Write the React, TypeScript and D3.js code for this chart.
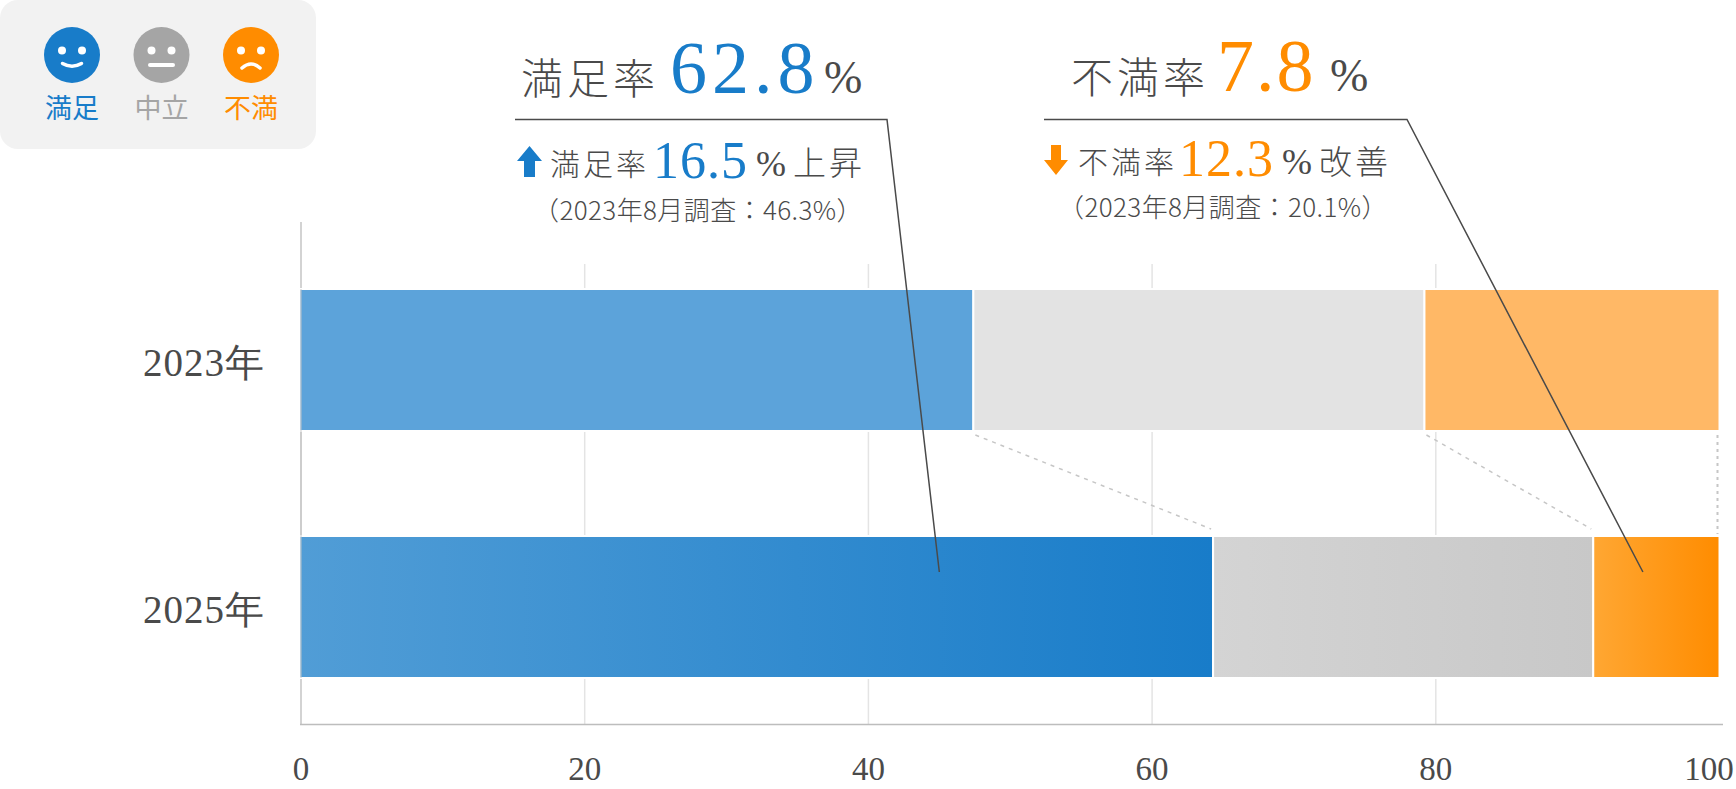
import React from "react";
import * as d3 from "d3";

const years = ["2023年", "2025年"];
const satisfied = [47.4, 64.3];
const neutral = [31.8, 26.8];
const unsatisfied = [20.8, 8.9];
const xTicks = [0, 20, 40, 60, 80, 100];
const keys = ["satisfied", "neutral", "unsatisfied"];
const legendLabels = ["満足", "中立", "不満"];
const rows = years.map((year, i) => ({ year, satisfied: satisfied[i], neutral: neutral[i], unsatisfied: unsatisfied[i] }));

const BLUE = "#187cc9", GREY = "#a5a5a5", ORANGE = "#ff8c00", INK = "#4a4a4a";
const SERIF = "'Liberation Serif', serif";
const JP = "'Noto Sans CJK JP', sans-serif";
const flat = ["#5ca3da", "#e3e3e3", "#ffb866"];
const grads = [["#519dd6", BLUE], ["#d4d4d4", "#c8c8c8"], ["#ffa733", ORANGE]];

const x = d3.scaleLinear().domain([0, 100]).range([301, 1719.5]);
const y = d3.scaleBand().domain(years).range([190.2, 776.8]).paddingInner(105 / 247).paddingOuter(0.4);
const stack = d3.stack().keys(keys)(rows as any);

const T = ({ x, y, size, fill = INK, family = SERIF, weight = 400, spacing = 0, anchor = "start", children }: any) => (
  <text x={x} y={y} fontSize={size} fill={fill} fontFamily={family} fontWeight={weight} letterSpacing={spacing} textAnchor={anchor}>{children}</text>
);

const Face = ({ cx, color, mood, label }: any) => {
  const mouth = mood === 0 ? "M-9.5 8.5 Q0 14 9.5 8.5" : mood === 1 ? "M-11.5 10 H11.5" : "M-9 13 Q0 5 9 13";
  return (
    <g>
      <circle cx={cx} cy={55} r={28} fill={color} />
      <g transform={`translate(${cx},55)`} fill="#fff">
        <circle cx={-10} cy={-4.5} r={4} />
        <circle cx={10} cy={-4.5} r={4} />
        <path d={mouth} fill="none" stroke="#fff" strokeWidth={mood === 1 ? 4 : 3.5} strokeLinecap="round" />
      </g>
      <T x={cx} y={118} size={27} fill={color} family={JP} anchor="middle">{label}</T>
    </g>
  );
};

export default function App() {
  const barTop = (i: number) => y(years[i])!;
  const bh = y.bandwidth();
  const top0 = barTop(0) + bh, top1 = barTop(1);
  const sum2023 = [satisfied[0], satisfied[0] + neutral[0], 100];
  const sum2025 = [satisfied[1], satisfied[1] + neutral[1], 100];
  return (
    <svg width={1736} height={789} style={{ position: "absolute", left: 0, top: 0, display: "block" }}>
      <defs>
        {grads.map((g, i) => (
          <linearGradient key={i} id={`g${i}`} x1="0" x2="1" y1="0" y2="0">
            <stop offset="0" stopColor={g[0]} />
            <stop offset="1" stopColor={g[1]} />
          </linearGradient>
        ))}
      </defs>
      <rect x={0} y={0} width={316} height={149} rx={18} fill="#f2f2f2" />
      {legendLabels.map((l, i) => (
        <Face key={l} cx={[72, 161.5, 251][i]} color={[BLUE, GREY, ORANGE][i]} mood={i} label={l} />
      ))}

      {xTicks.slice(1, -1).map((t) => (
        <line key={t} x1={x(t)} x2={x(t)} y1={264} y2={724} stroke="#e4e4e4" strokeWidth={1.5} />
      ))}
      <line x1={301} x2={301} y1={222} y2={725} stroke="#c4c4c4" strokeWidth={1.5} />
      <line x1={300} x2={1723} y1={724.5} y2={724.5} stroke="#bdbdbd" strokeWidth={1.5} />

      {stack.map((s, k) =>
        s.map((d, i) => {
          const x0 = k === 0 ? x(d[0]) - 1.5 : x(d[0]);
          return (
            <rect key={`${k}-${i}`} x={x0} y={barTop(i)} width={x(d[1]) - x0} height={bh}
              fill={i === 0 ? flat[k] : `url(#g${k})`} stroke="#fff" strokeWidth={2} />
          );
        })
      )}
      <line x1={301} x2={301} y1={289} y2={678} stroke="#c4c4c4" strokeWidth={1.5} strokeOpacity={0.6} />

      {sum2023.map((v, i) => (
        <line key={i} x1={x(v) + (i === 2 ? -2 : 2)} y1={top0 + 4} x2={x(sum2025[i]) + (i === 2 ? -2 : -2)} y2={i === 2 ? top1 - 2 : top1 - 7}
          stroke="#c6c6c6" strokeWidth={i === 2 ? 2 : 1.5} strokeDasharray={i === 2 ? "3 4" : "4 5"} />
      ))}

      {years.map((yr, i) => (
        <T key={yr} x={143} y={barTop(i) + bh / 2 + 16} size={39} spacing={1}>{yr}</T>
      ))}
      {xTicks.map((t) => (
        <T key={t} x={Math.min(x(t), 1709)} y={780} size={33} anchor="middle">{t}</T>
      ))}

      <polyline points={`515,119.5 887,119.5 ${x(45)},572`} fill="none" stroke={INK} strokeWidth={1.5} />
      <polyline points={`1044,119.5 1407,119.5 ${x(94.6)},572`} fill="none" stroke={INK} strokeWidth={1.5} />

      <T x={521} y={94} size={42} family={JP} weight={300} spacing={4}>満足率</T>
      <T x={670} y={93} size={74} fill={BLUE} spacing={5}>62.8</T>
      <T x={824} y={93} size={46}>%</T>
      <path d="M529.5 146 L542 161 H535 V177 H524 V161 H517 Z" fill={BLUE} />
      <T x={550} y={175} size={30} family={JP} weight={300} spacing={3}>満足率</T>
      <T x={653} y={178} size={52} fill={BLUE} spacing={1}>16.5</T>
      <T x={756} y={176} size={36}>%</T>
      <T x={793} y={175} size={33} family={JP} weight={300} spacing={3}>上昇</T>
      <T x={533} y={220} size={26} family={JP} weight={300} spacing={0.4}>（2023年8月調査：46.3%）</T>

      <T x={1071} y={93} size={42} family={JP} weight={300} spacing={4}>不満率</T>
      <T x={1217} y={91} size={74} fill={ORANGE} spacing={2}>7.8</T>
      <T x={1330} y={91} size={46}>%</T>
      <path d="M1056 175 L1068 160 H1061 V145 H1051 V160 H1044 Z" fill={ORANGE} />
      <T x={1078} y={173} size={30} family={JP} weight={300} spacing={3}>不満率</T>
      <T x={1179} y={176} size={52} fill={ORANGE} spacing={1}>12.3</T>
      <T x={1282} y={174} size={36}>%</T>
      <T x={1319} y={174} size={33} family={JP} weight={300} spacing={3}>改善</T>
      <T x={1058} y={217} size={26} family={JP} weight={300} spacing={0.4}>（2023年8月調査：20.1%）</T>
    </svg>
  );
}
